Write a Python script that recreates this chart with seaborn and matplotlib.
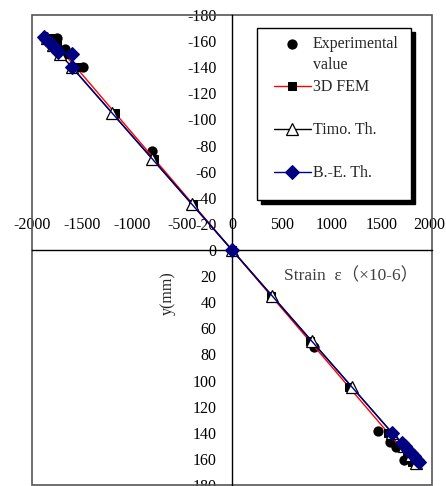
import matplotlib
matplotlib.use("Agg")
import matplotlib.pyplot as plt
from matplotlib.patches import Rectangle
from matplotlib.transforms import ScaledTranslation
import pandas as pd
import seaborn as sns

# experimental points
exp_strain = [-1750, -1670, -1490, -800, 820, 1460, 1580, 1640, 1720]
exp_y = [-162, -154, -140, -76, 74, 139, 147, 151, 161]

# 3D FEM
fem_strain = [-1800, -1750, -1680, -1560, -1170, -780, -390, 0, 390, 780, 1170, 1560, 1680, 1750, 1800]
fem_y = [-162, -157, -150, -140, -105, -70, -35, 0, 35, 70, 105, 140, 150, 157, 162]

# Timoshenko theory
timo_strain = [-1850, -1790, -1720, -1600, -1200, -800, -400, 0, 400, 800, 1200, 1600, 1720, 1790, 1840]
timo_y = [-162, -157, -150, -140, -105, -70, -35, 0, 35, 70, 105, 140, 150, 157, 163]

# Bernoulli-Euler theory
be_strain = [-1880, -1860, -1840, -1820, -1800, -1780, -1760, -1740, -1600, -1600, 0,
             1600, 1700, 1730, 1760, 1790, 1820, 1850, 1870]
be_y = [-163, -161.5, -160, -158.5, -157, -155.5, -154, -152, -150, -140, 0,
        140, 148, 150.5, 153, 155.5, 158, 160.5, 162]

x_ticks = [-2000, -1500, -1000, -500, 0, 500, 1000, 1500, 2000]
y_ticks = list(range(-180, 181, 20))

sns.set_style("white")
plt.rcParams["font.family"] = ["Liberation Serif", "DejaVu Serif"]
plt.rcParams["font.size"] = 11.5

W, H = 446, 486
fig = plt.figure(figsize=(W / 100, H / 100), dpi=100)
ax = fig.add_axes([32 / W, 1 / H, 400 / W, 470 / H])

exp_df = pd.DataFrame({"strain": exp_strain, "y": exp_y})
sns.scatterplot(data=exp_df, x="strain", y="y", ax=ax, color="black", marker="o",
                s=55, edgecolor="black", linewidth=0, label="Experimental", zorder=3)

fem_df = pd.DataFrame({"strain": fem_strain, "y": fem_y})
sns.lineplot(data=fem_df, x="strain", y="y", ax=ax, sort=False, estimator=None,
             color="#FF0000", linewidth=1.0, marker="s", markersize=5.5,
             markerfacecolor="black", markeredgecolor="black", label="3D FEM", zorder=4)

timo_df = pd.DataFrame({"strain": timo_strain, "y": timo_y})
sns.lineplot(data=timo_df, x="strain", y="y", ax=ax, sort=False, estimator=None,
             color="black", linewidth=1.0, marker="^", markersize=8,
             markerfacecolor="white", markeredgecolor="black", markeredgewidth=0.9,
             label="Timo. Th.", zorder=5)

be_df = pd.DataFrame({"strain": be_strain, "y": be_y})
sns.lineplot(data=be_df, x="strain", y="y", ax=ax, sort=False, estimator=None,
             color="#000080", linewidth=1.0, marker="D", markersize=7,
             markerfacecolor="#000080", markeredgecolor="#000080", label="B.-E. Th.", zorder=6)

ax.set_xlim(-2000, 2000)
ax.set_ylim(180, -180)
ax.set_xticks(x_ticks)
ax.set_yticks(y_ticks)
ax.set_xlabel("")
ax.set_ylabel("")

# axes cross at the origin, plot area framed in grey
ax.spines["left"].set_position(("data", 0))
ax.spines["bottom"].set_position(("data", 0))
ax.spines["top"].set_visible(False)
ax.spines["right"].set_visible(False)
for s in ("left", "bottom"):
    ax.spines[s].set_color("black")
    ax.spines[s].set_linewidth(1.0)
ax.add_patch(Rectangle((0, 0), 1, 1, transform=ax.transAxes, fill=False,
                       edgecolor="#555555", linewidth=1.2, clip_on=False, zorder=1))

ax.tick_params(axis="both", direction="inout", length=8.5, width=1.0, color="black",
               labelsize=11.5, labelcolor="black")
ax.tick_params(axis="y", pad=7)
ax.tick_params(axis="x", pad=-28)
ax.set_xticklabels([str(v) for v in x_ticks])
ax.set_yticklabels([str(v) for v in y_ticks])
# keep the last x label inside the picture
last = ax.get_xticklabels()[-1]
last.set_transform(last.get_transform() + ScaledTranslation(-2 / 72, 0, fig.dpi_scale_trans))

ax.text(-640, 33, "y(mm)", rotation=90, ha="center", va="center", fontsize=11.5)
ax.text(1190, 20, "Strain  ε（×10-6）", ha="center", va="center", fontsize=12.5,
        color="#404040", family=["Liberation Serif", "Noto Sans CJK JP", "DejaVu Sans"])

# legend box with a hard black shadow, as in the spreadsheet original
box_x, box_y, box_w, box_h = 225 / 400, 285 / 470, 154 / 400, 172 / 470
ax.add_patch(Rectangle((box_x + 4 / 400, box_y - 4 / 470), box_w, box_h, transform=ax.transAxes,
                       facecolor="black", edgecolor="black", clip_on=False, zorder=8))
ax.add_patch(Rectangle((box_x, box_y), box_w, box_h, transform=ax.transAxes,
                       facecolor="white", edgecolor="black", linewidth=1.0, clip_on=False, zorder=9))

leg = ax.legend(loc="upper left", bbox_to_anchor=(242 / 400, 449 / 470), frameon=False,
                handlelength=2.3, handletextpad=0.12, labelspacing=1.7, borderpad=0,
                fontsize=11.5, borderaxespad=0)
leg.set_zorder(10)

fig.canvas.draw()
bb = leg.get_texts()[0].get_window_extent()
fig.text(bb.x0 / W, ((bb.y0 + bb.y1) / 2 - 21) / H, "value", ha="left", va="center",
         fontsize=11.5, zorder=11)

fig.savefig("out.png", dpi=100)
